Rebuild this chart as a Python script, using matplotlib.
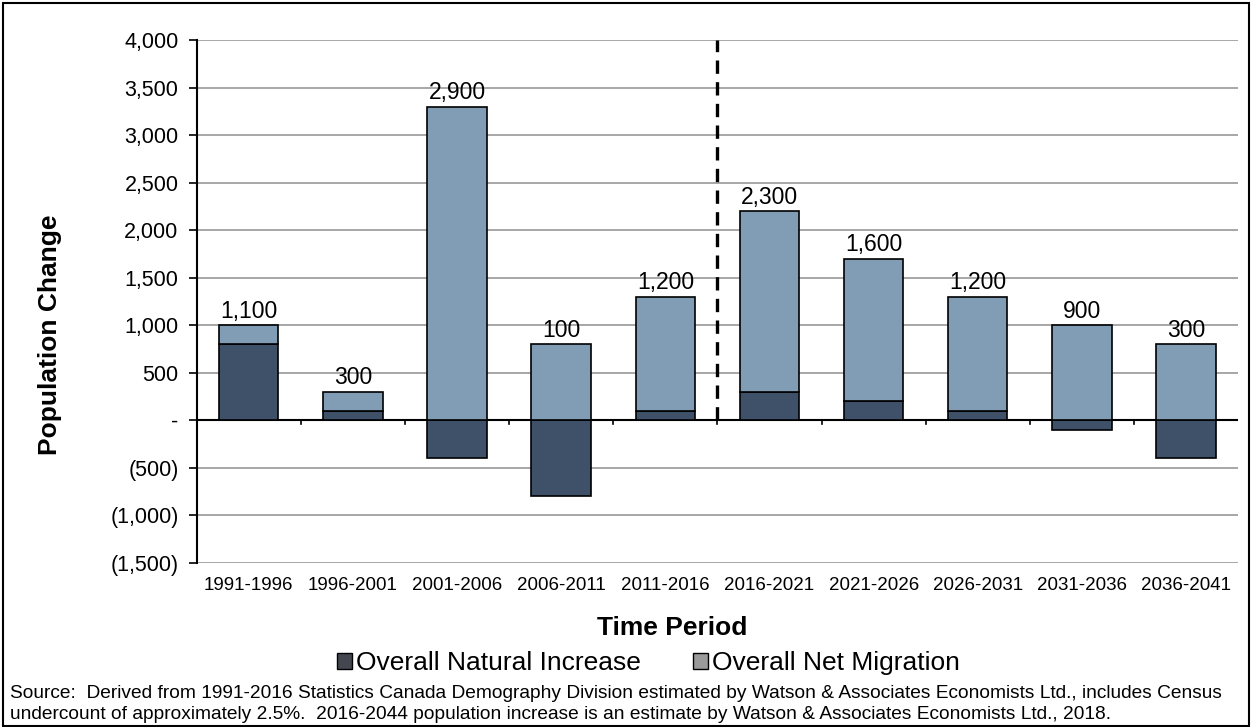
import matplotlib.pyplot as plt
from matplotlib.patches import Rectangle, Patch
from matplotlib.ticker import FuncFormatter
import numpy as np

plt.rcParams['font.family'] = ['Liberation Sans', 'DejaVu Sans']

periods = ["1991-1996", "1996-2001", "2001-2006", "2006-2011", "2011-2016",
           "2016-2021", "2021-2026", "2026-2031", "2031-2036", "2036-2041"]
natural_increase = [800, 100, -400, -800, 100, 300, 200, 100, -100, -400]
net_migration = [200, 200, 3300, 800, 1200, 1900, 1500, 1200, 1000, 800]
total_labels = [1100, 300, 2900, 100, 1200, 2300, 1600, 1200, 900, 300]

nat_color = "#3e5169"
mig_color = "#819db6"


def fmt_pop(v, pos=None):
    if v == 0:
        return "-"
    if v < 0:
        return f"({abs(v):,.0f})"
    return f"{v:,.0f}"


fig = plt.figure(figsize=(12.52, 7.27), dpi=100)
ax = fig.add_axes([0.157, 0.226, 0.832, 0.719])

x = np.arange(len(periods))
nat = np.array(natural_increase)
mig = np.array(net_migration)
mig_bottom = np.where(nat > 0, nat, 0)

ax.bar(x, nat, width=0.57, color=nat_color, edgecolor="black", linewidth=1.2, zorder=3)
ax.bar(x, mig, width=0.57, bottom=mig_bottom, color=mig_color, edgecolor="black",
       linewidth=1.2, zorder=3)

for xi, top, lab in zip(x, mig_bottom + mig, total_labels):
    ax.text(xi, top + 25, f"{lab:,}", ha="center", va="bottom", fontsize=16.5)

# projection divider
ax.plot([4.5, 4.5], [0, 4000], color="black", linestyle=(0, (4, 2.5)), linewidth=2.4, zorder=4)

ax.set_xlim(-0.5, len(periods) - 0.5)
ax.set_ylim(-1500, 4000)
ax.set_yticks(np.arange(-1500, 4001, 500))
ax.yaxis.set_major_formatter(FuncFormatter(fmt_pop))
ax.yaxis.grid(True, color="#909090", linewidth=1.1, zorder=0)
ax.set_axisbelow(True)

for s in ["top", "right", "bottom"]:
    ax.spines[s].set_visible(False)
ax.spines["left"].set_linewidth(1.5)
ax.axhline(0, color="black", linewidth=1.5, zorder=2)

# x ticks: labels at category centers, tick marks at boundaries on zero line
ax.set_xticks(x)
ax.set_xticklabels(periods, fontsize=13.5)
ax.tick_params(axis="x", length=0, pad=10)
for b in np.arange(0.5, len(periods) - 0.5, 1):
    ax.plot([b, b], [0, -45], color="black", linewidth=1.2, zorder=2, clip_on=False)

ax.tick_params(axis="y", labelsize=15.5, length=6, width=1.2, pad=7)

fig.text(0.537, 0.136, "Time Period", fontsize=19, fontweight="bold", ha="center", va="center")
fig.text(0.040, 0.54, "Population Change", fontsize=19, fontweight="bold", rotation=90,
         ha="center", va="center")

handles = [Patch(facecolor="#44474f", edgecolor="black", label="Overall Natural Increase"),
           Patch(facecolor="#9a9a9a", edgecolor="black", label="Overall Net Migration")]
fig.legend(handles=handles, loc="center", bbox_to_anchor=(0.518, 0.088), ncol=2,
           frameon=False, fontsize=19, handlelength=0.55, handleheight=0.55,
           handletextpad=0.15, columnspacing=2.0, borderpad=0)

fig.text(0.008, 0.046,
         "Source:  Derived from 1991-2016 Statistics Canada Demography Division estimated by "
         "Watson & Associates Economists Ltd., includes Census",
         fontsize=13.8, ha="left", va="center")
fig.text(0.008, 0.017,
         "undercount of approximately 2.5%.  2016-2044 population increase is an estimate by "
         "Watson & Associates Economists Ltd., 2018.",
         fontsize=13.8, ha="left", va="center")

fig.patches.append(Rectangle((0.002, 0.002), 0.996, 0.994, transform=fig.transFigure,
                             fill=False, edgecolor="black", linewidth=1.5))

fig.savefig("out.png", dpi=100)
